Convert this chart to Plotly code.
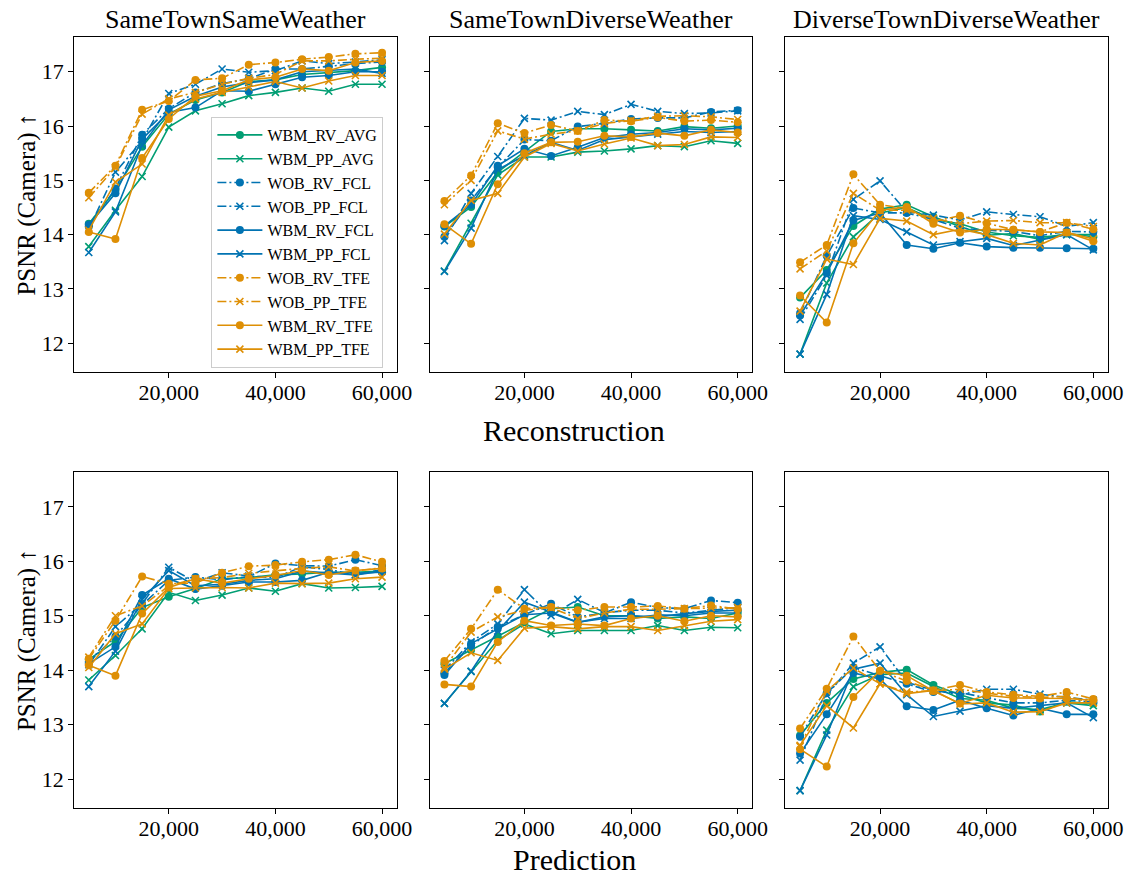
import plotly.graph_objects as go

# training steps on the x axis
steps = [5000, 10000, 15000, 20000, 25000, 30000, 35000, 40000, 45000, 50000, 55000, 60000]

series_names = ["WBM_RV_AVG", "WBM_PP_AVG", "WOB_RV_FCL", "WOB_PP_FCL", "WBM_RV_FCL",
                "WBM_PP_FCL", "WOB_RV_TFE", "WOB_PP_TFE", "WBM_RV_TFE", "WBM_PP_TFE"]

col_titles = ["SameTownSameWeather", "SameTownDiverseWeather", "DiverseTownDiverseWeather"]
row_labels = ["Reconstruction", "Prediction"]

# ---- Reconstruction row ----
rec_stsw = {
    "WBM_RV_AVG": [14.20, 14.82, 15.62, 16.22, 16.48, 16.62, 16.82, 16.85, 16.95, 16.98, 17.02, 17.08],
    "WBM_PP_AVG": [13.78, 14.45, 15.07, 15.98, 16.28, 16.41, 16.56, 16.62, 16.70, 16.64, 16.77, 16.77],
    "WOB_RV_FCL": [14.15, 14.85, 15.84, 16.32, 16.62, 16.78, 16.87, 17.05, 17.05, 17.10, 17.15, 17.18],
    "WOB_PP_FCL": [14.10, 15.15, 15.73, 16.60, 16.77, 17.05, 16.99, 17.02, 17.20, 17.15, 17.18, 17.22],
    "WBM_RV_FCL": [14.18, 14.76, 15.76, 16.25, 16.34, 16.65, 16.64, 16.77, 16.90, 16.93, 17.00, 17.00],
    "WBM_PP_FCL": [13.67, 14.42, 15.65, 16.30, 16.55, 16.72, 16.80, 16.85, 17.00, 17.02, 17.05, 16.97],
    "WOB_RV_TFE": [14.77, 15.27, 16.30, 16.46, 16.85, 16.88, 17.13, 17.17, 17.23, 17.27, 17.33, 17.35],
    "WOB_PP_TFE": [14.68, 15.24, 16.22, 16.50, 16.62, 16.77, 16.88, 16.95, 17.20, 17.20, 17.23, 17.25],
    "WBM_RV_TFE": [14.05, 13.92, 15.41, 16.13, 16.55, 16.65, 16.85, 16.90, 17.05, 17.02, 17.17, 17.20],
    "WBM_PP_TFE": [14.08, 14.97, 15.30, 16.20, 16.50, 16.62, 16.72, 16.82, 16.70, 16.83, 16.93, 16.93],
}
rec_stdw = {
    "WBM_RV_AVG": [14.15, 14.51, 15.15, 15.52, 15.90, 15.95, 15.95, 15.93, 15.91, 15.99, 15.96, 16.00],
    "WBM_PP_AVG": [13.33, 14.21, 15.10, 15.43, 15.43, 15.52, 15.54, 15.58, 15.64, 15.62, 15.73, 15.68],
    "WOB_RV_FCL": [13.96, 14.63, 15.24, 15.75, 15.73, 15.99, 16.05, 16.13, 16.15, 16.15, 16.26, 16.29],
    "WOB_PP_FCL": [13.89, 14.76, 15.44, 16.14, 16.11, 16.27, 16.21, 16.40, 16.27, 16.23, 16.24, 16.28],
    "WBM_RV_FCL": [14.16, 14.55, 15.27, 15.58, 15.45, 15.61, 15.79, 15.85, 15.88, 15.95, 15.93, 15.96],
    "WBM_PP_FCL": [13.32, 14.12, 15.20, 15.45, 15.70, 15.55, 15.75, 15.80, 15.85, 15.90, 15.88, 15.90],
    "WOB_RV_TFE": [14.62, 15.09, 16.05, 15.87, 16.02, 15.91, 16.11, 16.09, 16.16, 16.09, 16.11, 16.07],
    "WOB_PP_TFE": [14.55, 15.00, 15.91, 15.76, 15.85, 15.91, 16.05, 16.10, 16.18, 16.19, 16.17, 16.12],
    "WBM_RV_TFE": [14.19, 13.83, 14.93, 15.50, 15.70, 15.71, 15.82, 15.80, 15.87, 15.82, 15.93, 15.88],
    "WBM_PP_TFE": [14.01, 14.63, 14.76, 15.43, 15.68, 15.54, 15.67, 15.78, 15.64, 15.66, 15.80, 15.79],
}
rec_dtdw = {
    "WBM_RV_AVG": [12.84, 13.35, 14.16, 14.47, 14.55, 14.33, 14.15, 13.99, 14.02, 13.91, 14.02, 13.96],
    "WBM_PP_AVG": [11.80, 13.11, 13.96, 14.40, 14.50, 14.28, 14.20, 14.05, 13.98, 13.95, 14.00, 14.00],
    "WOB_RV_FCL": [12.55, 13.61, 14.49, 14.40, 14.40, 14.28, 14.12, 14.08, 14.06, 13.98, 14.06, 14.05],
    "WOB_PP_FCL": [12.44, 13.25, 14.65, 14.99, 14.42, 14.36, 14.27, 14.42, 14.37, 14.33, 14.15, 14.22],
    "WBM_RV_FCL": [12.51, 13.29, 14.26, 14.40, 13.81, 13.74, 13.85, 13.78, 13.76, 13.76, 13.75, 13.74],
    "WBM_PP_FCL": [11.80, 12.90, 14.35, 14.28, 14.05, 13.81, 13.87, 13.93, 13.80, 13.90, 14.00, 13.72],
    "WOB_RV_TFE": [13.49, 13.81, 15.11, 14.55, 14.48, 14.24, 14.35, 14.21, 14.09, 14.05, 14.22, 14.10],
    "WOB_PP_TFE": [13.37, 13.70, 14.76, 14.45, 14.45, 14.30, 14.20, 14.25, 14.26, 14.22, 14.22, 14.15],
    "WBM_RV_TFE": [12.88, 12.38, 13.84, 14.45, 14.51, 14.20, 14.04, 14.10, 14.09, 14.05, 14.04, 13.88],
    "WBM_PP_TFE": [12.59, 13.55, 13.45, 14.30, 14.25, 14.00, 14.10, 14.00, 13.84, 13.81, 14.04, 13.92],
}

# ---- Prediction row ----
pred_stsw = {
    "WBM_RV_AVG": [14.20, 14.53, 15.15, 15.35, 15.50, 15.68, 15.70, 15.75, 15.77, 15.80, 15.80, 15.82],
    "WBM_PP_AVG": [13.82, 14.27, 14.76, 15.43, 15.28, 15.38, 15.51, 15.45, 15.59, 15.51, 15.52, 15.54],
    "WOB_RV_FCL": [14.15, 14.62, 15.20, 15.65, 15.71, 15.66, 15.72, 15.96, 15.92, 15.91, 16.03, 15.92],
    "WOB_PP_FCL": [14.10, 14.80, 15.22, 15.89, 15.62, 15.79, 15.73, 15.70, 15.90, 15.85, 15.75, 15.85],
    "WBM_RV_FCL": [14.12, 14.43, 15.38, 15.68, 15.49, 15.55, 15.62, 15.62, 15.65, 15.80, 15.78, 15.80],
    "WBM_PP_FCL": [13.70, 14.35, 15.30, 15.83, 15.55, 15.58, 15.65, 15.68, 15.82, 15.78, 15.75, 15.82],
    "WOB_RV_TFE": [14.21, 14.91, 15.72, 15.59, 15.60, 15.79, 15.91, 15.93, 15.99, 16.03, 16.12, 15.99],
    "WOB_PP_TFE": [14.24, 15.00, 15.18, 15.55, 15.68, 15.70, 15.78, 15.83, 15.87, 15.90, 15.82, 15.88],
    "WBM_RV_TFE": [14.09, 13.90, 15.04, 15.52, 15.68, 15.60, 15.68, 15.74, 15.83, 15.75, 15.83, 15.87],
    "WBM_PP_TFE": [14.05, 14.67, 14.85, 15.50, 15.51, 15.52, 15.51, 15.60, 15.59, 15.60, 15.68, 15.71],
}
pred_stdw = {
    "WBM_RV_AVG": [14.12, 14.37, 14.62, 14.88, 15.13, 15.16, 15.00, 15.00, 14.95, 14.98, 14.95, 15.05],
    "WBM_PP_AVG": [13.39, 13.98, 14.55, 14.85, 14.67, 14.73, 14.73, 14.73, 14.82, 14.73, 14.79, 14.78],
    "WOB_RV_FCL": [13.95, 14.45, 14.80, 15.02, 15.22, 14.98, 15.05, 15.25, 15.15, 15.13, 15.28, 15.24],
    "WOB_PP_FCL": [14.00, 14.52, 14.85, 15.48, 15.00, 15.30, 15.06, 15.10, 15.10, 15.05, 15.10, 15.15],
    "WBM_RV_FCL": [13.91, 14.49, 14.76, 15.02, 15.05, 14.88, 14.98, 15.00, 14.98, 15.04, 15.08, 15.10],
    "WBM_PP_FCL": [13.39, 13.98, 14.72, 15.25, 15.07, 14.88, 14.95, 14.95, 15.02, 15.00, 15.05, 15.05],
    "WOB_RV_TFE": [14.17, 14.76, 15.48, 15.13, 15.16, 15.10, 15.16, 15.16, 15.18, 15.13, 15.19, 15.12],
    "WOB_PP_TFE": [14.05, 14.70, 14.98, 15.10, 15.15, 14.95, 15.05, 15.12, 15.12, 15.13, 15.15, 15.15],
    "WBM_RV_TFE": [13.74, 13.70, 14.52, 14.91, 14.82, 14.85, 14.82, 14.95, 15.00, 14.90, 15.00, 14.98],
    "WBM_PP_TFE": [14.02, 14.32, 14.18, 14.77, 14.80, 14.76, 14.80, 14.80, 14.73, 14.82, 14.90, 14.93],
}
pred_dtdw = {
    "WBM_RV_AVG": [12.80, 13.40, 13.84, 13.96, 14.01, 13.73, 13.55, 13.40, 13.36, 13.24, 13.42, 13.39],
    "WBM_PP_AVG": [11.79, 12.90, 13.70, 13.92, 13.95, 13.70, 13.48, 13.45, 13.30, 13.28, 13.40, 13.35],
    "WOB_RV_FCL": [12.78, 13.58, 14.05, 13.90, 13.75, 13.60, 13.59, 13.50, 13.40, 13.40, 13.45, 13.42],
    "WOB_PP_FCL": [12.35, 13.54, 14.13, 14.43, 13.78, 13.63, 13.55, 13.65, 13.65, 13.56, 13.50, 13.45],
    "WBM_RV_FCL": [12.47, 13.19, 13.95, 13.84, 13.34, 13.27, 13.45, 13.30, 13.17, 13.30, 13.19, 13.19],
    "WBM_PP_FCL": [11.79, 12.81, 14.02, 14.13, 13.55, 13.15, 13.25, 13.35, 13.30, 13.35, 13.40, 13.13],
    "WOB_RV_TFE": [12.93, 13.66, 14.62, 13.99, 13.80, 13.63, 13.73, 13.60, 13.55, 13.52, 13.60, 13.47],
    "WOB_PP_TFE": [12.60, 13.62, 14.04, 13.75, 13.60, 13.62, 13.65, 13.58, 13.52, 13.50, 13.52, 13.40],
    "WBM_RV_TFE": [12.55, 12.23, 13.51, 13.99, 13.90, 13.62, 13.39, 13.54, 13.49, 13.48, 13.48, 13.45],
    "WBM_PP_TFE": [12.62, 13.35, 12.94, 13.75, 13.57, 13.63, 13.38, 13.40, 13.23, 13.24, 13.40, 13.40],
}

panels = [[rec_stsw, rec_stdw, rec_dtdw], [pred_stsw, pred_stdw, pred_dtdw]]

y_ticks = [12, 13, 14, 15, 16, 17]
x_ticks = [20000, 40000, 60000]

# ---- styling ----
W, H = 1127, 878
PW = 1110  # usable drawing width the page ends up with (a scrollbar takes the rest)
FONT = "Liberation Serif, Times New Roman, serif"
COLORS = {"AVG": "#029e73", "FCL": "#0173b2", "TFE": "#de8f05"}
DASHDOT = "9px,3px,2px,3px"

col_px = [(74, 396), (429, 751), (784, 1106)]
row_px = [(37, 372), (472, 808)]


def style_for(name):
    model, kind, head = name.split("_")
    color = COLORS[head]
    dash = "solid" if model == "WBM" else DASHDOT
    if kind == "RV":
        marker = dict(symbol="circle", size=8, color=color, line=dict(width=0))
    else:
        marker = dict(symbol="x-thin", size=7, color=color, line=dict(width=1.6, color=color))
    return color, dash, marker


fig = go.Figure()
layout = {}
for r in range(2):
    for c in range(3):
        idx = r * 3 + c + 1
        xa = "x" if idx == 1 else f"x{idx}"
        ya = "y" if idx == 1 else f"y{idx}"
        data = panels[r][c]
        for name in series_names:
            color, dash, marker = style_for(name)
            fig.add_trace(go.Scatter(
                x=steps, y=data[name], mode="lines+markers", name=name,
                line=dict(color=color, width=1.6, dash=dash),
                marker=marker, xaxis=xa, yaxis=ya,
                legendgroup=name, showlegend=(idx == 1),
            ))
        x0, x1 = col_px[c]
        yt, yb = row_px[r]
        axis_common = dict(
            showline=True, mirror=True, linecolor="black", linewidth=1.2,
            ticks="outside", ticklen=5, tickwidth=1.2, tickcolor="black",
            showgrid=False, zeroline=False,
            tickfont=dict(family=FONT, size=22, color="black"),
        )
        layout["xaxis" if idx == 1 else f"xaxis{idx}"] = dict(
            domain=[x0 / PW, min(x1 / PW, 1.0)], range=[2250, 62750], anchor=ya,
            tickvals=x_ticks, tickformat=",d", ticklabelstandoff=-5, **axis_common)
        layout["yaxis" if idx == 1 else f"yaxis{idx}"] = dict(
            domain=[1 - yb / H, 1 - yt / H], range=[11.47, 17.64], anchor=xa,
            tickvals=y_ticks, showticklabels=(c == 0), **axis_common)

annotations = []
for c, t in enumerate(col_titles):
    x0, x1 = col_px[c]
    annotations.append(dict(text=t, x=(x0 + x1) / 2 / PW, y=1 - 20 / H, xref="paper", yref="paper",
                            xanchor="center", yanchor="middle", showarrow=False,
                            font=dict(family=FONT, size=26, color="black")))
for r, lbl in enumerate(row_labels):
    ycen = [430, 859][r]
    annotations.append(dict(text=lbl, x=573 / PW, y=1 - ycen / H, xref="paper", yref="paper",
                            xanchor="center", yanchor="middle", showarrow=False,
                            font=dict(family=FONT, size=30, color="black")))
    yt, yb = row_px[r]
    annotations.append(dict(text="PSNR (Camera) \u2191", x=27 / PW, y=1 - (yt + yb) / 2 / H,
                            xref="paper", yref="paper", xanchor="center", yanchor="middle",
                            textangle=-90, showarrow=False,
                            font=dict(family=FONT, size=25, color="black")))

fig.update_layout(
    width=W, height=H, margin=dict(l=0, r=0, t=0, b=0),
    paper_bgcolor="white", plot_bgcolor="white",
    font=dict(family=FONT, color="black"),
    annotations=annotations,
    legend=dict(x=211 / PW, y=1 - 117 / H, xanchor="left", yanchor="top",
                bgcolor="rgba(255,255,255,0.85)", bordercolor="#cccccc", borderwidth=1,
                font=dict(family=FONT, size=16, color="black"),
                itemwidth=45, traceorder="normal", tracegroupgap=0),
    **layout,
)

fig.write_html("out.html")
